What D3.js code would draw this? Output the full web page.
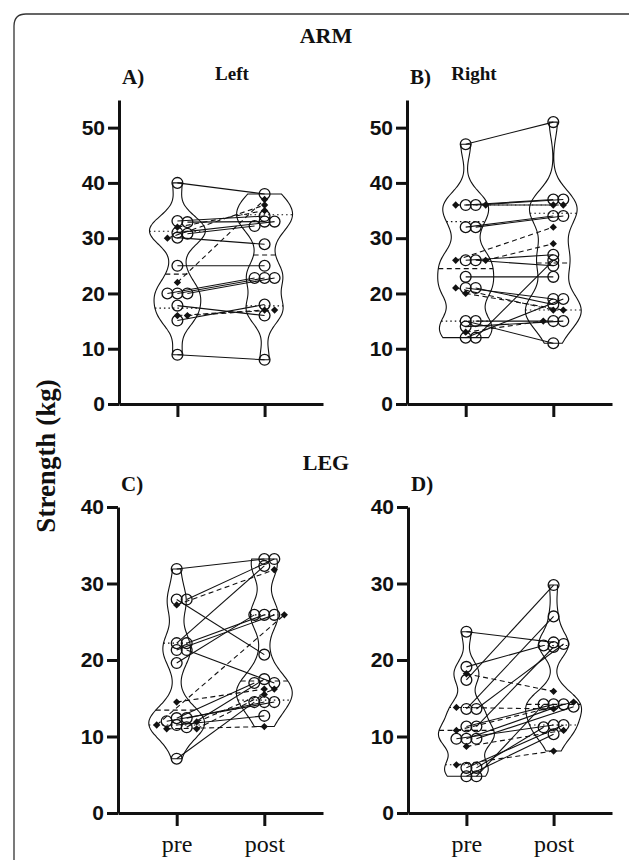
<!DOCTYPE html>
<html>
<head>
<meta charset="utf-8">
<script src="https://cdn.jsdelivr.net/npm/d3@7"></script>
<style>
  body { margin: 0; background: #fff; }
  .tick text { font-family: "Liberation Sans", Arial, sans-serif; font-weight: bold; }
</style>
</head>
<body>
<svg id="chart" width="629" height="860"></svg>
<script>
var groups = ["pre", "post"];
var SERIF = "'Liberation Serif', 'Times New Roman', Times, serif";

// A) arm, left (kg). circles = solid pairs, diamonds = dashed pairs
var armLeftCirclePre   = [40, 33.1, 32.9, 31, 30.8, 30.1, 25, 20, 20, 20, 17.8, 15.1, 8.9];
var armLeftCirclePost  = [38, 34, 33, 33, 32.2, 28.9, 25, 22.8, 22.8, 22.8, 16, 18, 8];
var armLeftDiamondPre  = [32, 30, 22, 16, 16];
var armLeftDiamondPost = [35, 36, 37, 17, 17];

// B) arm, right
var armRightCirclePre   = [47, 36, 36, 32, 32, 26, 26, 23, 21, 21, 15, 15, 14, 12, 12];
var armRightCirclePost  = [51, 37, 37, 34, 34, 27, 25, 23, 19, 18, 11, 15, 15, 19, 26];
var armRightDiamondPre  = [36, 36, 26, 26, 21, 20, 13];
var armRightDiamondPost = [36, 36, 32, 29, 17, 17, 15];

// C) leg, left
var legLeftCirclePre   = [31.9, 27.9, 27.9, 22.2, 22.2, 21.3, 21.3, 19.6, 12.4, 12.4, 12, 11.5, 11.2, 7.1];
var legLeftCirclePost  = [33.2, 20.7, 33.2, 32.3, 25.9, 25.9, 17, 25.9, 17, 14.5, 14.5, 12.7, 17.5, 14.5];
var legLeftDiamondPre  = [27.2, 14.5, 11.9, 11.5, 11, 11];
var legLeftDiamondPost = [31.8, 16.2, 16.2, 25.9, 11.3, 15.5];

// D) leg, right
var legRightCirclePre   = [23.7, 19.1, 17.4, 13.6, 13.6, 11.3, 11.3, 9.7, 9.7, 9.7, 5.9, 5.9, 4.8, 4.8];
var legRightCirclePost  = [22.3, 21.9, 29.8, 25.7, 22.1, 14.2, 21.7, 14.2, 13.9, 11.5, 11.5, 11.2, 10.3, 14.2];
var legRightDiamondPre  = [18.2, 13.8, 10.8, 8.7, 6.3];
var legRightDiamondPost = [15.9, 13.6, 14.5, 10.8, 8.1];

var armTicks = [0, 10, 20, 30, 40, 50];
var legTicks = [0, 10, 20, 30, 40];

var panels = [
    { letter: "A)", side: "Left", cPre: armLeftCirclePre, cPost: armLeftCirclePost, dPre: armLeftDiamondPre, dPost: armLeftDiamondPost,
      yMax: 55, ticks: armTicks, left: 119, right: 323, bottom: 404, top: 100, labels: false, sideX: 232 },
    { letter: "B)", side: "Right", cPre: armRightCirclePre, cPost: armRightCirclePost, dPre: armRightDiamondPre, dPost: armRightDiamondPost,
      yMax: 55, ticks: armTicks, left: 407, right: 612, bottom: 404, top: 100, labels: false, sideX: 474 },
    { letter: "C)", side: "", cPre: legLeftCirclePre, cPost: legLeftCirclePost, dPre: legLeftDiamondPre, dPost: legLeftDiamondPost,
      yMax: 40, ticks: legTicks, left: 118, right: 323, bottom: 813, top: 507, labels: true },
    { letter: "D)", side: "", cPre: legRightCirclePre, cPost: legRightCirclePost, dPre: legRightDiamondPre, dPost: legRightDiamondPost,
      yMax: 40, ticks: legTicks, left: 408, right: 612, bottom: 813, top: 507, labels: true }
];

var svg = d3.select("#chart");

// frame
svg.append("path")
    .attr("d", "M14,872 L14,26 Q14,14 26,14 L640,14")
    .attr("fill", "none").attr("stroke", "#333").attr("stroke-width", 1.3);

function quart(sorted, p) {
    var n = sorted.length, pos = (n + 1) * p;
    if (pos <= 1) return sorted[0];
    if (pos >= n) return sorted[n - 1];
    var lo = Math.floor(pos), f = pos - lo;
    return sorted[lo - 1] + f * (sorted[lo] - sorted[lo - 1]);
}

function density(values, h, grid) {
    return grid.map(function (v) {
        var s = d3.sum(values, function (x) { var u = (v - x) / h; return Math.exp(-0.5 * u * u); });
        return [v, s];
    });
}

// simple swarm: equal-ish values spread sideways
function swarm(points, y, step, minDy) {
    var placed = [];
    points.forEach(function (p) {
        var py = y(p.v);
        for (var k = 0; k < 12; k++) {
            var slot = k === 0 ? 0 : (k % 2 ? (k + 1) / 2 : -k / 2);
            var hit = placed.some(function (q) { return q.slot === slot && Math.abs(q.py - py) < minDy; });
            if (!hit) { p.slot = slot; p.py = py; placed.push(p); break; }
        }
    });
    points.forEach(function (p) { p.dx = p.slot * step; });
}

function serifText(sel, size, weight) {
    return sel.style("font-family", SERIF).style("font-size", size + "px")
        .style("font-weight", weight || "bold").attr("fill", "#111");
}

panels.forEach(function (cfg) {
    var g = svg.append("g");
    var x = d3.scalePoint().domain(groups).range([cfg.left, cfg.right]).padding(0.67);
    var y = d3.scaleLinear().domain([0, cfg.yMax]).range([cfg.bottom, cfg.top]);

    // subjects
    var cols = { pre: [], post: [] };
    var pairs = [];
    cfg.cPre.forEach(function (v, i) {
        var a = { v: v, shape: "c" }, b = { v: cfg.cPost[i], shape: "c" };
        cols.pre.push(a); cols.post.push(b); pairs.push([a, b, "c"]);
    });
    cfg.dPre.forEach(function (v, i) {
        var a = { v: v, shape: "d" }, b = { v: cfg.dPost[i], shape: "d" };
        cols.pre.push(a); cols.post.push(b); pairs.push([a, b, "d"]);
    });

    groups.forEach(function (grp) {
        var pts = cols[grp];
        var vals = pts.map(function (p) { return p.v; }).sort(d3.ascending);
        var cx = x(grp);
        var sd = d3.deviation(vals), iqr = quart(vals, 0.75) - quart(vals, 0.25);
        var h = 0.55 * 0.9 * Math.min(sd, iqr / 1.34) * Math.pow(vals.length, -0.2);
        var lo = vals[0], hi = vals[vals.length - 1];
        var grid = d3.range(0, 81).map(function (i) { return lo + (hi - lo) * i / 80; });
        var dens = density(vals, h, grid);
        var w = d3.scaleLinear().domain([0, d3.max(dens, function (d) { return d[1]; })]).range([0, 28]);

        g.append("path").datum(dens)
            .attr("d", d3.area().curve(d3.curveBasis)
                .y(function (d) { return y(d[0]); })
                .x0(function (d) { return cx - w(d[1]); })
                .x1(function (d) { return cx + w(d[1]); }))
            .attr("fill", "none").attr("stroke", "#111").attr("stroke-width", 1.1);

        // median and quartiles
        var halfAt = function (v) {
            var d = density(vals, h, [v])[0];
            return w(d[1]);
        };
        [[0.25, "1.5,3"], [0.5, "5,3.5"], [0.75, "1.5,3"]].forEach(function (q) {
            var v = quart(vals, q[0]);
            g.append("line")
                .attr("x1", cx - halfAt(v)).attr("x2", cx + halfAt(v))
                .attr("y1", y(v)).attr("y2", y(v))
                .attr("stroke", "#111").attr("stroke-width", 1.1)
                .attr("stroke-dasharray", q[1]);
        });

        var order = pts.slice().sort(function (a, b) { return (a.shape === b.shape ? 0 : a.shape === "c" ? -1 : 1) || b.v - a.v; });
        swarm(order, y, 10, 4.5);
        pts.forEach(function (p) { p.cx = cx + p.dx; p.cy = y(p.v); });
    });

    // pair lines
    g.selectAll(".pair").data(pairs).enter().append("line")
        .attr("x1", function (d) { return d[0].cx; }).attr("y1", function (d) { return d[0].cy; })
        .attr("x2", function (d) { return d[1].cx; }).attr("y2", function (d) { return d[1].cy; })
        .attr("stroke", "#111").attr("stroke-width", 1.1)
        .attr("stroke-dasharray", function (d) { return d[2] === "d" ? "5,3.5" : null; });

    var all = cols.pre.concat(cols.post);
    g.selectAll(".circ").data(all.filter(function (p) { return p.shape === "c"; })).enter().append("circle")
        .attr("cx", function (d) { return d.cx; }).attr("cy", function (d) { return d.cy; })
        .attr("r", 5.4).attr("fill", "none").attr("stroke", "#111").attr("stroke-width", 1.3);
    g.selectAll(".diam").data(all.filter(function (p) { return p.shape === "d"; })).enter().append("path")
        .attr("d", d3.symbol().type(d3.symbolDiamond2).size(34))
        .attr("transform", function (d) { return "translate(" + d.cx + "," + d.cy + ")"; })
        .attr("fill", "#111");

    // axes
    var ya = g.append("g").attr("transform", "translate(" + cfg.left + ",0)")
        .call(d3.axisLeft(y).tickValues(cfg.ticks).tickSize(11).tickSizeOuter(0).tickPadding(3));
    ya.selectAll("text").attr("font-size", 21).attr("fill", "#111");
    var xa = g.append("g").attr("transform", "translate(0," + cfg.bottom + ")")
        .call(d3.axisBottom(x).tickSize(13).tickSizeOuter(0).tickPadding(9));
    serifText(xa.selectAll("text"), 24, "normal").attr("opacity", cfg.labels ? 1 : 0);
    g.selectAll(".domain").attr("stroke", "#111").attr("stroke-width", 3);
    g.selectAll(".tick line").attr("stroke", "#111").attr("stroke-width", 3);

    // panel letter and side title
    serifText(g.append("text"), 21).attr("x", cfg.left + 3).attr("y", cfg.top - 16).text(cfg.letter);
    if (cfg.side) {
        serifText(g.append("text"), 19).attr("x", cfg.sideX).attr("y", cfg.top - 20)
            .attr("text-anchor", "middle").text(cfg.side);
    }
});

serifText(svg.append("text"), 22).attr("x", 326).attr("y", 43).attr("text-anchor", "middle").text("ARM");
serifText(svg.append("text"), 22).attr("x", 326).attr("y", 470).attr("text-anchor", "middle").text("LEG");
serifText(svg.append("text"), 27).attr("transform", "translate(55,456) rotate(-90)")
    .attr("text-anchor", "middle").text("Strength (kg)");
</script>
</body>
</html>
